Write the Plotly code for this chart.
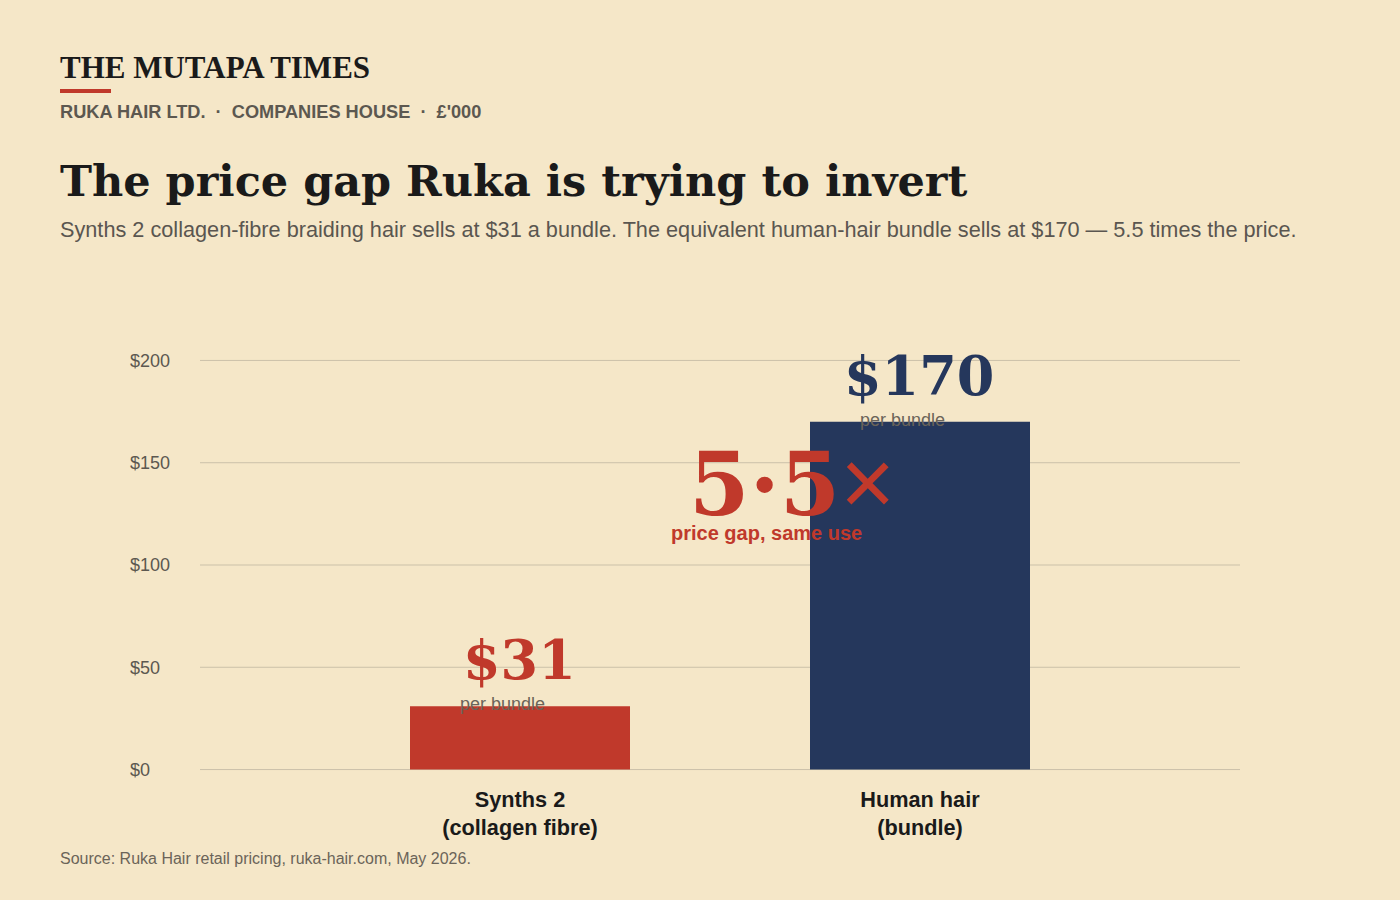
import plotly.graph_objects as go

categories = ["Synths 2<br>(collagen fibre)", "Human hair<br>(bundle)"]
prices = [31, 170]
bar_colors = ["#c0392b", "#25375c"]
price_labels = ["$31", "$170"]
tick_vals = [0, 50, 100, 150, 200]
tick_text = ["$0", "$50", "$100", "$150", "$200"]
gap_ratio = "5·5"

BG = "#f5e7c8"
RED = "#c0392b"
NAVY = "#25375c"
GRID = "#cbc1a9"
SANS = "Liberation Sans, Arial, sans-serif"
SERIF = "DejaVu Serif, Georgia, serif"
MAST = "Liberation Serif, Times New Roman, serif"

W, H = 1400, 900
L, R, T, B = 127, 160, 339.5, 109.5
pw, ph = W - L - R, H - T - B

def px(x):
    return (x - L) / pw

def py(y_from_top):
    return (H - y_from_top - B) / ph

xpos = list(range(len(categories)))

fig = go.Figure()
fig.add_trace(go.Bar(
    x=xpos, y=prices, marker=dict(color=bar_colors, line=dict(width=0)),
    width=0.55, hoverinfo="skip", showlegend=False,
))

# gridlines from tick values
for v in tick_vals:
    fig.add_shape(type="line", xref="paper", yref="y", x0=px(200), x1=1.0, y0=v, y1=v,
                  line=dict(color=GRID, width=1), layer="below")

# price labels
for i, (p, lab, col) in enumerate(zip(prices, price_labels, bar_colors)):
    fig.add_annotation(x=xpos[i], y=p, xref="x", yref="y", text="<b>%s</b>" % lab,
                       showarrow=False, yanchor="bottom", yshift=12, xshift=-1,
                       font=dict(family=SERIF, size=54, color=col))
    fig.add_annotation(x=xpos[i], y=p, xref="x", yref="y", text="per bundle",
                       showarrow=False, yanchor="middle", yshift=2, xshift=-18,
                       font=dict(family=SANS, size=18, color="#6b6459"))

# gap callout
ratio_x = 0.69
fig.add_annotation(x=ratio_x, y=126, xref="x", yref="y",
                   text="<b>%s</b><span style='font-family:Liberation Sans, Arial; font-weight:normal; font-size:94px'>×</span>" % gap_ratio,
                   showarrow=False, yanchor="bottom", yshift=-26, xshift=-4,
                   font=dict(family=SERIF, size=87, color=RED))
fig.add_annotation(x=ratio_x - 0.07, y=116, xref="x", yref="y",
                   text="<b>price gap, same use</b>", showarrow=False, yanchor="middle",
                   xshift=-2, yshift=-1,
                   font=dict(family=SANS, size=20, color=RED))

# header
fig.add_annotation(x=px(58), y=py(66), xref="paper", yref="paper", text="<b>THE MUTAPA TIMES</b>",
                   showarrow=False, xanchor="left", yanchor="middle",
                   font=dict(family=MAST, size=31, color="#1a1a1a"))
fig.add_shape(type="rect", xref="paper", yref="paper", x0=px(60), x1=px(111), y0=py(92), y1=py(88),
              fillcolor=RED, line=dict(width=0))
fig.add_annotation(x=px(58), y=py(111), xref="paper", yref="paper",
                   text="<b>RUKA HAIR LTD.  ·  COMPANIES HOUSE  ·  £'000</b>",
                   showarrow=False, xanchor="left", yanchor="middle",
                   font=dict(family=SANS, size=18.2, color="#5c5850"))
fig.add_annotation(x=px(58), y=py(180), xref="paper", yref="paper",
                   text="<b>The price gap Ruka is trying to invert</b>",
                   showarrow=False, xanchor="left", yanchor="middle",
                   font=dict(family=SERIF, size=43, color="#1a1a1a"))
fig.add_annotation(x=px(58), y=py(229), xref="paper", yref="paper",
                   text="Synths 2 collagen-fibre braiding hair sells at $31 a bundle. The equivalent human-hair bundle sells at $170 — 5.5 times the price.",
                   showarrow=False, xanchor="left", yanchor="middle",
                   font=dict(family=SANS, size=21.7, color="#5a5650"))
fig.add_annotation(x=px(58), y=py(859), xref="paper", yref="paper",
                   text="Source: Ruka Hair retail pricing, ruka-hair.com, May 2026.",
                   showarrow=False, xanchor="left", yanchor="middle",
                   font=dict(family=SANS, size=16, color="#6b6459"))

fig.update_layout(
    width=W, height=H, paper_bgcolor=BG, plot_bgcolor=BG,
    margin=dict(l=L, r=R, t=T, b=B, autoexpand=False),
    xaxis=dict(range=[-(520 - L) / 400, 1 + (W - R - 920) / 400], tickmode="array", tickvals=xpos,
               ticktext=["<b>%s</b>" % c for c in categories], showgrid=False, zeroline=False,
               showline=False, ticks="", ticklabelstandoff=-6,
               tickfont=dict(family=SANS, size=21.7, color="#1a1a1a")),
    yaxis=dict(range=[-10, 210], tickmode="array", tickvals=tick_vals, ticktext=tick_text,
               ticklabelposition="inside", showgrid=False, zeroline=False, showline=False,
               ticks="", tickfont=dict(family=SANS, size=18, color="#5c5850")),
)
fig.write_html("out.html", config={"displayModeBar": False},
               post_script="document.body.style.margin='0';")
